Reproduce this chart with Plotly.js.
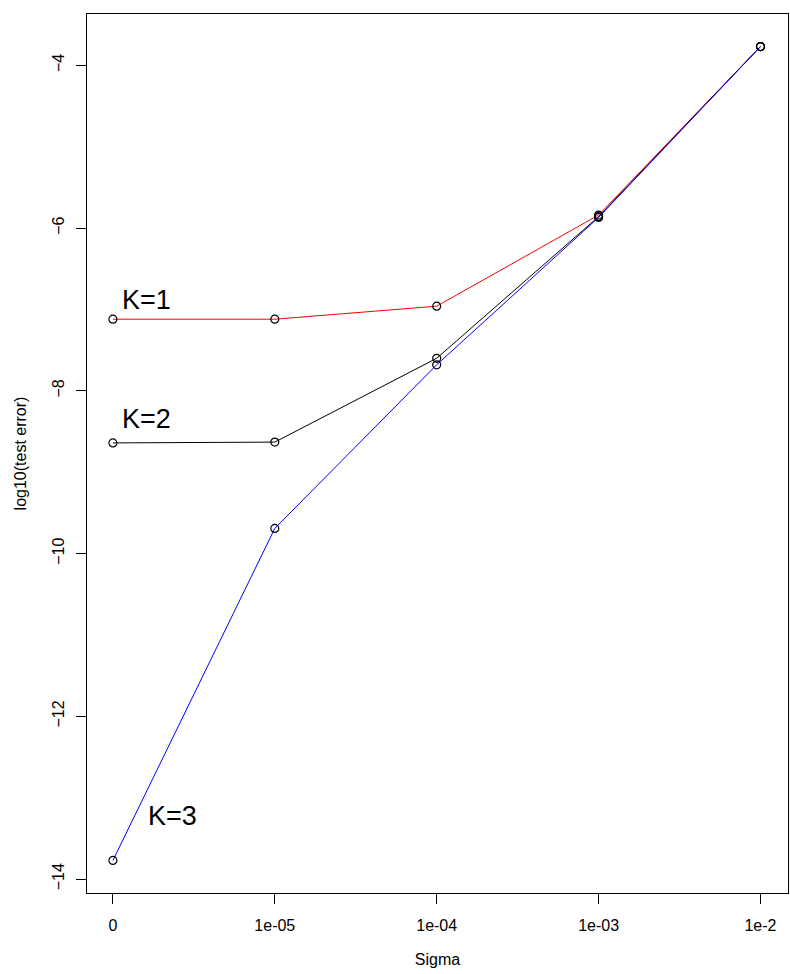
<!DOCTYPE html>
<html>
<head>
<meta charset="utf-8">
<script src="https://cdn.plot.ly/plotly-3.0.1.min.js"></script>
<style>html,body{margin:0;padding:0;background:#fff;}#chart{width:790px;height:974px;}</style>
</head>
<body>
<div id="chart"></div>
<script>
// Data
const sigmaLabels = ["0", "1e-05", "1e-04", "1e-03", "1e-2"];
const errK1 = [-7.12, -7.12, -6.96, -5.84, -3.77];
const errK2 = [-8.64, -8.63, -7.60, -5.86, -3.77];
const errK3 = [-13.77, -9.69, -7.68, -5.87, -3.77];
const yTicks = [-14, -12, -10, -8, -6, -4];
const seriesNames = ["K=1", "K=2", "K=3"];
const seriesColors = ["red", "black", "blue"];

const FONT = "Liberation Sans, Arial, Helvetica, sans-serif";
const series = [errK1, errK2, errK3];

const traces = series.map((vals, i) => ({
  type: "scatter",
  mode: "lines+markers",
  x: sigmaLabels,
  y: vals,
  name: seriesNames[i],
  line: {color: seriesColors[i], width: 1},
  marker: {symbol: "circle-open", size: 8, color: "black", line: {color: "black", width: 1.2}},
  showlegend: false,
  hoverinfo: "x+y"
}));

const layout = {
  width: 790,
  height: 974,
  paper_bgcolor: "white",
  plot_bgcolor: "white",
  margin: {l: 87, r: 2, t: 14, b: 81},
  font: {family: FONT, size: 16, color: "black"},
  xaxis: {
    type: "category",
    range: [-0.16, 4.17],
    showgrid: false,
    zeroline: false,
    showline: true,
    mirror: true,
    linecolor: "black",
    linewidth: 1,
    ticks: "outside",
    ticklen: 10,
    tickcolor: "black",
    ticklabelstandoff: 8,
    tickfont: {family: FONT, size: 16, color: "black"},
    title: {text: "Sigma", font: {family: FONT, size: 16, color: "black"}, standoff: 20}
  },
  yaxis: {
    range: [-14.17, -3.37],
    tickvals: yTicks,
    tickangle: -90,
    showgrid: false,
    zeroline: false,
    showline: true,
    mirror: true,
    linecolor: "black",
    linewidth: 1,
    ticks: "outside",
    ticklen: 10,
    tickcolor: "black",
    ticklabelstandoff: 6,
    tickfont: {family: FONT, size: 16, color: "black"},
    title: {text: "log10(test error)", font: {family: FONT, size: 16, color: "black"}, standoff: 18}
  },
  annotations: [
    {x: 0.21, y: -6.88, xref: "x", yref: "y", text: seriesNames[0], showarrow: false,
     xanchor: "center", yanchor: "middle", font: {family: FONT, size: 27, color: "black"}},
    {x: 0.21, y: -8.34, xref: "x", yref: "y", text: seriesNames[1], showarrow: false,
     xanchor: "center", yanchor: "middle", font: {family: FONT, size: 27, color: "black"}},
    {x: 0.37, y: -13.22, xref: "x", yref: "y", text: seriesNames[2], showarrow: false,
     xanchor: "center", yanchor: "middle", font: {family: FONT, size: 27, color: "black"}}
  ]
};

Plotly.newPlot("chart", traces, layout, {displayModeBar: false, staticPlot: true});
</script>
</body>
</html>
